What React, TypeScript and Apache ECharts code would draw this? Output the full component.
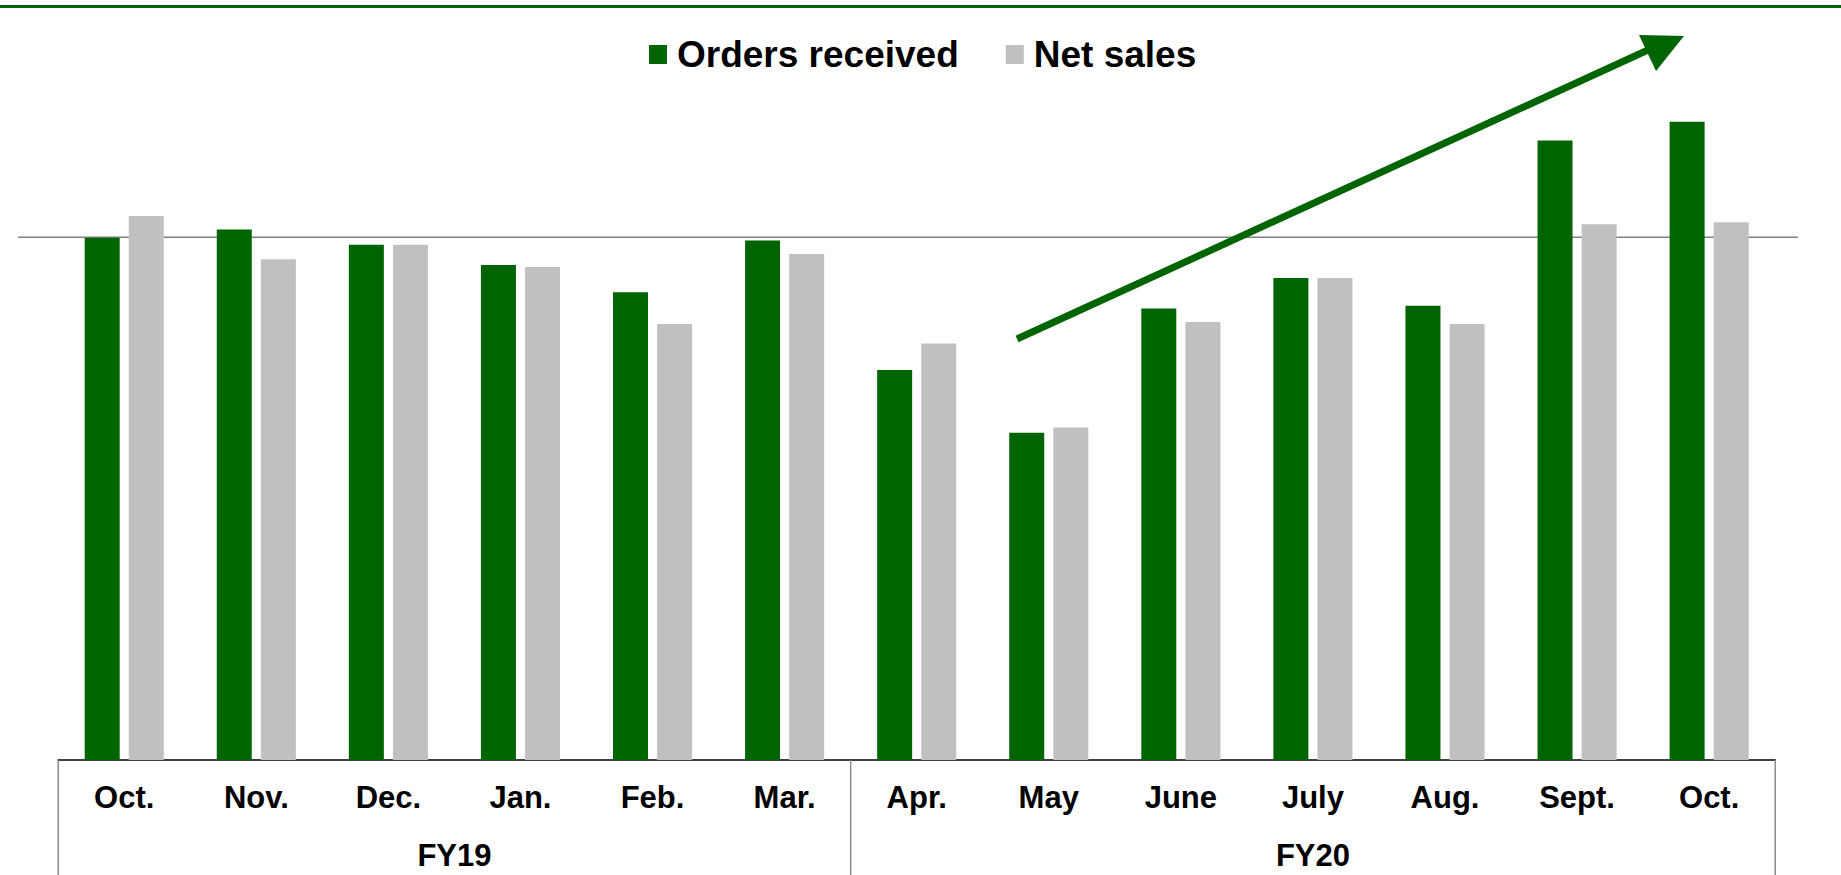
import React, { useEffect, useRef } from "react";
import * as echarts from "echarts";

const months = ["Oct.", "Nov.", "Dec.", "Jan.", "Feb.", "Mar.", "Apr.", "May", "June", "July", "Aug.", "Sept.", "Oct."];
const fiscalYears = ["FY19", "FY20"];
const fiscalYearSpans = [[0, 5], [6, 12]];
const ordersReceived = [99.9, 101.5, 98.6, 94.7, 89.5, 99.4, 74.6, 62.6, 86.4, 92.2, 86.9, 118.5, 122.1];
const netSales = [104.1, 95.8, 98.6, 94.3, 83.4, 96.8, 79.7, 63.6, 83.8, 92.2, 83.4, 102.5, 102.9];
const referenceValue = 100;

const GREEN = "#006400";
const GRAY = "#C0C0C0";
const FONT = "'Liberation Sans', Arial, sans-serif";

export default function App() {
  const ref = useRef<HTMLDivElement>(null);

  useEffect(() => {
    if (!ref.current) return;
    const chart = echarts.init(ref.current, undefined, { renderer: "svg" });
    chart.setOption({
      animation: false,
      backgroundColor: "#ffffff",
      grid: { left: 58.2, right: 65.8, top: 80.5, bottom: 115 },
      legend: {
        left: 649,
        top: 36,
        padding: 0,
        itemWidth: 18,
        itemHeight: 19,
        itemGap: 47,
        icon: "rect",
        textStyle: {
          fontSize: 37,
          fontWeight: "bold",
          fontFamily: FONT,
          color: "#000",
          padding: [0, 0, 0, 5],
        },
        data: ["Orders received", "Net sales"],
      },
      xAxis: {
        type: "category",
        data: months,
        axisTick: { show: false },
        axisLine: { show: true, lineStyle: { color: "#000", width: 1.5 } },
        axisLabel: {
          interval: 0,
          margin: 22,
          fontSize: 31,
          lineHeight: 31,
          fontWeight: "bold",
          fontFamily: FONT,
          color: "#000",
        },
      },
      yAxis: {
        type: "value",
        min: 0,
        max: 130,
        show: false,
        splitLine: { show: false },
      },
      series: [
        {
          name: "Orders received",
          type: "bar",
          data: ordersReceived,
          barWidth: 35,
          barGap: "26%",
          itemStyle: { color: GREEN },
        },
        {
          name: "Net sales",
          type: "bar",
          data: netSales,
          barWidth: 35,
          itemStyle: { color: GRAY },
        },
      ],
    });

    const yRef = chart.convertToPixel({ yAxisIndex: 0 }, referenceValue) as number;
    const y0 = chart.convertToPixel({ yAxisIndex: 0 }, 0) as number;
    const px = (i: number) => chart.convertToPixel({ xAxisIndex: 0 }, i) as number;
    const band = px(1) - px(0);
    const boundaries = [px(0) - band / 2, (px(5) + px(6)) / 2, px(12) + band / 2];

    const graphics: any[] = [
      { type: "rect", shape: { x: 0, y: 5, width: 1841, height: 3 }, style: { fill: GREEN }, z: 10 },
      {
        type: "line",
        shape: { x1: 18, y1: yRef, x2: 1798, y2: yRef },
        style: { stroke: "#808080", lineWidth: 1.5 },
        z: 0,
      },
      ...boundaries.map((x) => ({
        type: "line",
        shape: { x1: x, y1: y0, x2: x, y2: 875 },
        style: { stroke: "#8a8a8a", lineWidth: 1.5 },
        z: 10,
      })),
      ...fiscalYears.map((fy, k) => ({
        type: "text",
        x: (px(fiscalYearSpans[k][0]) + px(fiscalYearSpans[k][1])) / 2,
        y: 855,
        style: {
          text: fy,
          fill: "#000",
          font: `bold 31px ${FONT}`,
          textAlign: "center",
          textVerticalAlign: "middle",
        },
        z: 10,
      })),
      {
        type: "line",
        shape: { x1: 1017, y1: 339, x2: 1648, y2: 50 },
        style: { stroke: GREEN, lineWidth: 7 },
        z: 20,
      },
      {
        type: "polygon",
        shape: { points: [[1639, 35], [1684, 36], [1656, 71]] },
        style: { fill: GREEN },
        z: 20,
      },
    ];
    chart.setOption({ graphic: graphics });

    return () => chart.dispose();
  }, []);

  return (
    <div
      ref={ref}
      style={{ position: "fixed", left: 0, top: 0, width: "1841px", height: "875px", background: "#fff" }}
    />
  );
}
